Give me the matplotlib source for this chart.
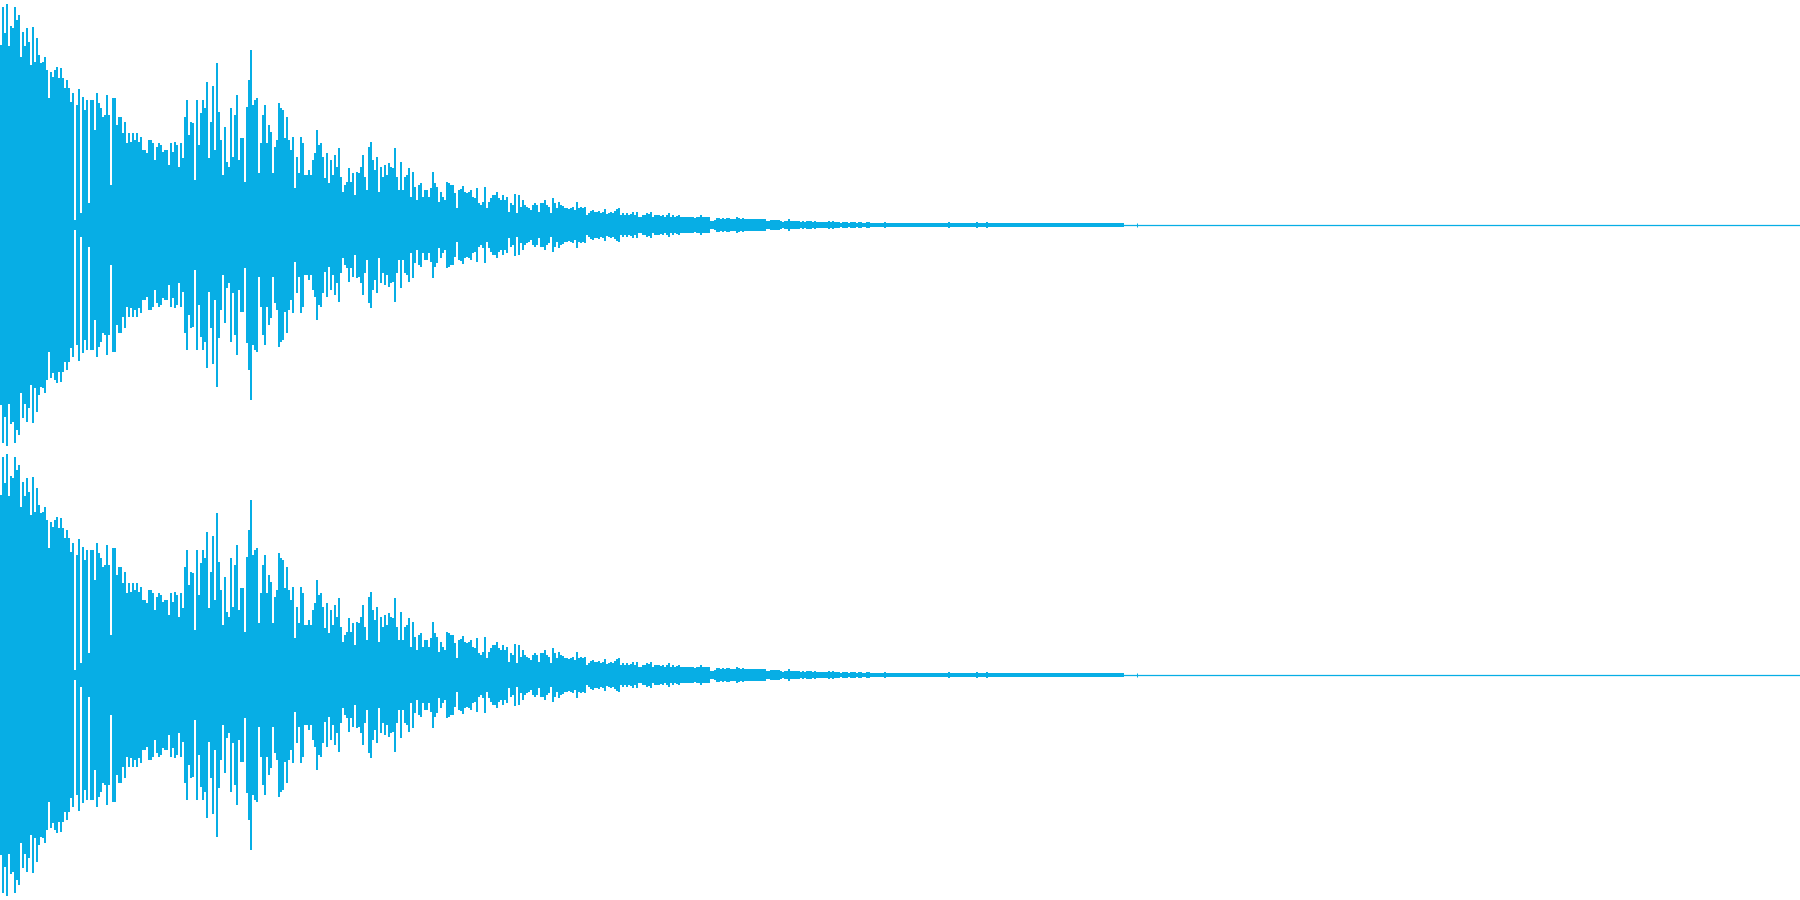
import numpy as np
import matplotlib
matplotlib.use('Agg')
import matplotlib.pyplot as plt

# peak level of each 2 px column (full scale = 675)
peaks_attack = [
    540, 655, 575, 663, 537, 597, 590, 655, 615, 630, 505, 580, 537, 590, 550, 480, 593, 490, 560, 510,
    485, 490, 505, 465, 380, 460, 445, 465, 475, 440, 470, 440, 410, 435, 410, 370, 395, 15, 360, 407,
    35, 385, 345, 375, 65, 375, 375, 285, 395, 365, 350, 325, 330, 390, 330, 120, 380, 380, 300, 325,
    325, 275, 310, 245, 275, 250, 275, 255, 275, 250, 265, 225, 225, 215, 255, 255, 245, 195, 235, 245,
    240, 220, 225, 225, 180, 245, 220, 250, 240, 175, 245, 200, 325, 375, 270, 310, 305, 135, 375, 240,
    335, 375, 350, 430, 200, 310, 417, 225, 485, 340, 255, 150, 295, 190, 175, 350, 205, 330, 390, 195,
    260, 260, 130, 355, 435, 525, 360, 375, 380, 155, 245, 330, 360, 245, 300, 280, 155, 235, 255, 365,
    350, 345, 260, 325, 255, 225, 265, 110, 205, 155, 265, 245, 150, 150, 165, 150, 195, 215, 285, 240,
    245, 205, 140, 215, 125, 195, 150, 210, 175, 230, 145, 100, 120, 130, 170, 130, 155, 90, 160, 155,
    175, 210, 145, 105, 235, 250, 195, 165, 205, 100, 175, 145, 180, 150, 185, 175, 170, 230, 145, 105,
    190, 105, 145, 150, 170, 85, 160, 115, 75, 120, 125, 85, 105, 105, 85, 110, 160, 125, 115, 70,
    100, 85, 75, 130, 125,
]
peaks_decay = [
    120, 120, 95, 50, 105, 107, 117, 100, 95, 100, 105, 85, 80, 110, 65, 60, 70, 115, 50, 70,
    80, 90, 90, 100, 80, 75, 90, 75, 85, 40, 65, 60, 93, 35, 90, 55, 75, 60, 55, 50,
    45, 60, 65, 60, 40, 67, 67, 75, 60, 55, 35, 80, 65, 50, 70, 60, 57, 50, 50, 47,
    50, 55, 45, 70, 50, 53, 50, 55, 30, 37, 43, 45, 40, 38, 42, 35, 40, 47, 33, 35,
    40, 35, 43, 48, 52, 30, 35, 30, 35, 30, 33, 40, 30, 38, 25, 25, 30, 30, 35, 32,
    38, 25, 30, 30, 30, 27, 30, 25, 30, 35, 25, 30, 25, 27, 30, 23, 25, 25, 25, 23,
    25, 23, 22, 25, 23, 30, 23, 23, 23, 23, 13, 13, 15, 21, 21, 19, 21, 19, 20, 21,
    17, 19, 19, 24, 21, 19, 20, 19, 17, 19, 18, 19, 17, 19, 17, 18, 19, 17, 13, 13,
    15, 15, 15, 14, 15, 13, 10, 13, 11, 17, 11, 11, 13, 11, 12,
]
peaks_tail = [
    10, 13, 10, 11, 11, 12, 9, 12, 10, 10, 10, 10, 10, 10, 12, 10, 12, 10, 10, 10,
    7, 9, 9, 9, 7, 9, 9, 10, 7, 9, 9, 7, 7, 10, 10, 6, 6, 6, 6, 6,
    6, 6, 10, 6, 6, 6, 6, 6, 6, 6, 6, 6, 6, 6, 6, 6, 6, 6, 6, 6,
    6, 6, 7, 7, 7, 7, 7, 7, 7, 6, 7, 7, 6, 7, 8, 5, 5, 7, 5, 7,
    7, 5, 7, 5, 5, 5, 5, 5, 8, 5, 5, 5, 5, 8, 5, 5, 5, 5, 5, 5,
    5, 5, 5, 5, 5, 5, 5, 5, 5, 5, 5, 5, 5, 5, 5, 5, 5, 5, 5, 5,
    5, 5, 5, 5, 5, 5, 5, 5, 5, 5, 5, 5, 5, 5, 5, 5, 5, 5, 5, 5,
    5, 5, 5, 5, 5, 5, 5, 5, 5, 5, 5, 5, 5, 5, 5, 5, 5, 5, 7, 7,
    7, 7,
]
late_click_column = 1137
late_click_level = 5

FULL_SCALE = 675
WAVE_COLOR = '#07AEE5'

peaks = np.array(peaks_attack + peaks_decay + peaks_tail) / FULL_SCALE
columns = np.arange(len(peaks)) * 2

fig = plt.figure(figsize=(18, 9), dpi=100, facecolor='white')

# two identical channels, one above the other
for i in range(2):
    ax = fig.add_axes([0, 0.5 - i * 0.5, 1, 0.5])
    ax.bar(columns, 2 * peaks, bottom=-peaks, width=2, align='edge', color=WAVE_COLOR, linewidth=0)
    ax.hlines(0, 0, 1800, color=WAVE_COLOR, linewidth=0.9)
    ax.vlines(late_click_column, -late_click_level / FULL_SCALE, late_click_level / FULL_SCALE,
              color=WAVE_COLOR, linewidth=0.72)
    ax.set_xlim(0, 1800)
    ax.set_ylim(-1, 1)
    ax.axis('off')

fig.savefig('out.png', dpi=100, facecolor='white')
